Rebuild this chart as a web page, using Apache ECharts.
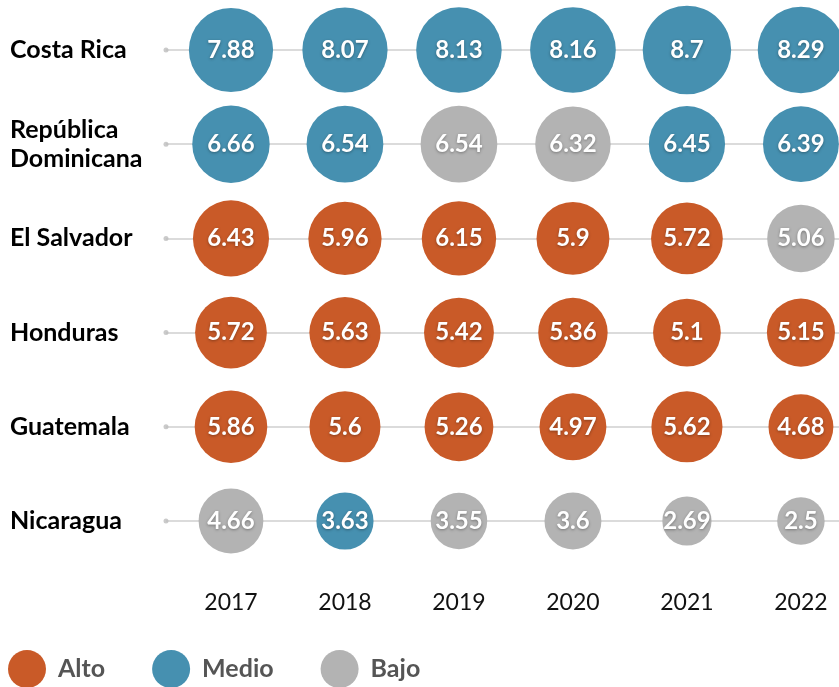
<!DOCTYPE html>
<html lang="es">
<head>
    <meta charset="UTF-8">
    <title>Burbujas por país</title>
    <script src="https://cdn.jsdelivr.net/npm/echarts@6/dist/echarts.min.js"></script>
    <style>
        html, body { margin: 0; padding: 0; background: #fff; }
    </style>
</head>
<body>
<div id="box" style="width: 839px;height: 687px;"></div>
<script>
    // datos
    var paises = ['Costa Rica', 'República\nDominicana', 'El Salvador', 'Honduras', 'Guatemala', 'Nicaragua'];
    var anios = [2017, 2018, 2019, 2020, 2021, 2022];
    var niveles = ['Alto', 'Medio', 'Bajo'];

    var costaRica   = [7.88, 8.07, 8.13, 8.16, 8.7, 8.29];
    var republicaDom = [6.66, 6.54, 6.54, 6.32, 6.45, 6.39];
    var elSalvador  = [6.43, 5.96, 6.15, 5.9, 5.72, 5.06];
    var honduras    = [5.72, 5.63, 5.42, 5.36, 5.1, 5.15];
    var guatemala   = [5.86, 5.6, 5.26, 4.97, 5.62, 4.68];
    var nicaragua   = [4.66, 3.63, 3.55, 3.6, 2.69, 2.5];

    var nivCostaRica   = ['Medio', 'Medio', 'Medio', 'Medio', 'Medio', 'Medio'];
    var nivRepublicaDom = ['Medio', 'Medio', 'Bajo', 'Bajo', 'Medio', 'Medio'];
    var nivElSalvador  = ['Alto', 'Alto', 'Alto', 'Alto', 'Alto', 'Bajo'];
    var nivHonduras    = ['Alto', 'Alto', 'Alto', 'Alto', 'Alto', 'Alto'];
    var nivGuatemala   = ['Alto', 'Alto', 'Alto', 'Alto', 'Alto', 'Alto'];
    var nivNicaragua   = ['Bajo', 'Medio', 'Bajo', 'Bajo', 'Bajo', 'Bajo'];

    var valores = [costaRica, republicaDom, elSalvador, honduras, guatemala, nicaragua];
    var nivelesPais = [nivCostaRica, nivRepublicaDom, nivElSalvador, nivHonduras, nivGuatemala, nivNicaragua];
    var colores = {Alto: '#c95a28', Medio: '#4690b0', Bajo: '#b3b3b3'};

    var xMin = 2016.43, xMax = 2022.334;
    var fuente = 'Lato';

    var myChart = echarts.init(document.getElementById('box'));

    var series = [];
    niveles.forEach(function (niv) {
        var data = [];
        paises.forEach(function (p, i) {
            anios.forEach(function (a, j) {
                if (nivelesPais[i][j] === niv) data.push([a, p, valores[i][j]]);
            });
        });
        series.push({
            name: niv,
            type: 'scatter',
            data: data,
            z: 3,
            symbolSize: function (d) { return 30 * Math.sqrt(d[2]); },
            itemStyle: {color: colores[niv], opacity: 1},
            label: {
                show: true,
                position: 'inside',
                formatter: function (p) { return p.value[2]; },
                color: '#fff',
                fontFamily: fuente,
                fontWeight: 'bold',
                fontSize: 24,
                textShadowColor: 'rgba(0,0,0,0.35)',
                textShadowBlur: 3,
                textShadowOffsetY: 1
            },
            emphasis: {disabled: true}
        });
    });
    // punto al inicio de cada fila
    series.push({
        name: 'inicio',
        type: 'scatter',
        silent: true,
        z: 2,
        symbolSize: 5,
        itemStyle: {color: '#bdbdbd'},
        data: paises.map(function (p) { return [xMin, p]; })
    });

    var option = {
        animation: false,
        grid: {left: 166, right: 0, top: 50, bottom: 166, containLabel: false},
        legend: {
            data: niveles,
            left: 8,
            top: 650,
            padding: 0,
            icon: 'circle',
            itemWidth: 38,
            itemHeight: 38,
            itemGap: 47,
            selectedMode: false,
            textStyle: {
                color: '#555',
                fontFamily: fuente,
                fontWeight: 'bold',
                fontSize: 25,
                padding: [0, 0, 0, 7]
            }
        },
        xAxis: {
            type: 'value',
            min: xMin,
            max: xMax,
            axisLine: {show: false},
            axisTick: {show: false},
            splitLine: {show: false},
            axisLabel: {
                customValues: anios,
                margin: 70,
                color: '#111',
                fontFamily: fuente,
                fontSize: 23,
                formatter: function (v) { return String(Math.round(v)); }
            }
        },
        yAxis: {
            type: 'category',
            data: paises,
            inverse: true,
            boundaryGap: false,
            axisLine: {show: false},
            axisTick: {show: false},
            splitLine: {show: true, lineStyle: {color: '#cfcfcf', width: 1.5}},
            axisLabel: {
                align: 'left',
                margin: 156,
                color: '#000',
                fontFamily: fuente,
                fontWeight: 'bold',
                fontSize: 25,
                lineHeight: 29,
                padding: [0, 0, 4, 0]
            }
        },
        series: series
    };
    myChart.setOption(option);
</script>
</body>
</html>
